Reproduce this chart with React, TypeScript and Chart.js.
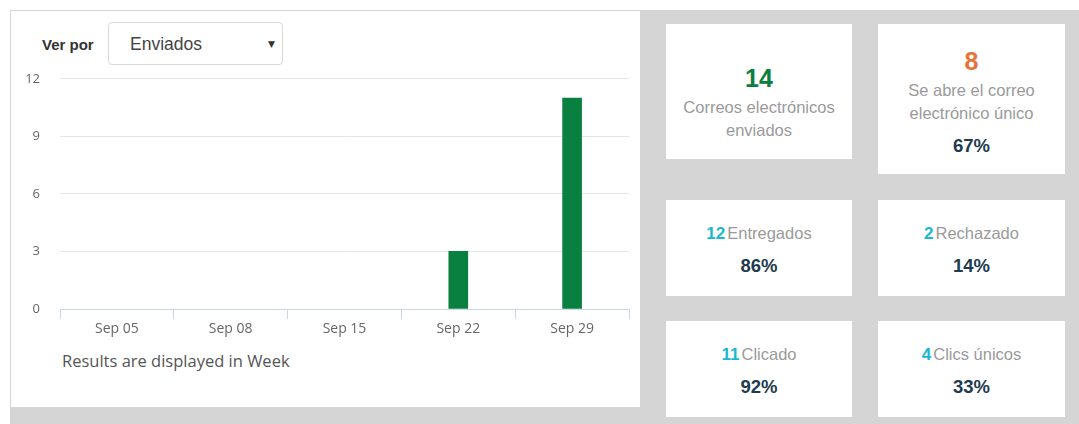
import React, { useEffect, useRef } from "react";
import { Chart, registerables } from "chart.js";

Chart.register(...registerables);

const categories = ["Sep 05", "Sep 08", "Sep 15", "Sep 22", "Sep 29"];
const sentValues = [0, 0, 0, 3, 11];
const yTicks = [0, 3, 6, 9, 12];

const GREEN = "#0a8040";
const ORANGE = "#e8733a";
const CYAN = "#1ab7d1";
const DARK = "#1e3b4f";
const LABEL = "#9a9a9a";

function BarChart() {
  const ref = useRef<HTMLCanvasElement | null>(null);
  useEffect(() => {
    if (!ref.current) return;
    const chart = new Chart(ref.current, {
      type: "bar",
      data: {
        labels: categories,
        datasets: [
          {
            label: "Enviados",
            data: sentValues,
            backgroundColor: (c: any) => (c.raw === 0 ? "rgba(0,0,0,0)" : GREEN),
            barThickness: 19,
          },
        ],
      },
      options: {
        animation: false,
        responsive: false,
        maintainAspectRatio: false,
        layout: { padding: { top: 12, right: 11, left: 0, bottom: 0 } },
        plugins: { legend: { display: false }, tooltip: { enabled: false } },
        scales: {
          x: {
            offset: true,
            grid: {
              offset: true,
              drawOnChartArea: false,
              drawTicks: true,
              tickLength: 10,
              color: (c: any) => (c.index === categories.length ? "rgba(0,0,0,0)" : "#ccd6eb"),
            },
            border: { display: true, color: "#ccd6eb" },
            ticks: {
              color: "#666",
              font: { family: "'Open Sans'", size: 14 },
              padding: 2,
              maxRotation: 0,
            },
            afterFit: (s: any) => {
              s.height = 36;
            },
          },
          y: {
            min: yTicks[0],
            max: yTicks[yTicks.length - 1],
            afterBuildTicks: (s: any) => {
              s.ticks = yTicks.map((v) => ({ value: v }));
            },
            grid: {
              drawTicks: false,
              color: (c: any) => (c.tick && c.tick.value === 0 ? "rgba(0,0,0,0)" : "#e6e6e6"),
            },
            border: { display: false },
            ticks: {
              color: "#666",
              font: { family: "'Open Sans'", size: 13 },
              padding: 20,
            },
            afterFit: (s: any) => {
              s.width = 48;
            },
          },
        },
      },
    });
    return () => chart.destroy();
  }, []);
  return (
    <canvas
      ref={ref}
      width={628}
      height={294}
      style={{ position: "absolute", left: 12, top: 51, width: 628, height: 294 }}
    />
  );
}

type Line = { top: number; content: React.ReactNode };

function Card(props: { left: number; top: number; width: number; height: number; lines: Line[] }) {
  return (
    <div
      style={{
        position: "absolute",
        left: props.left,
        top: props.top,
        width: props.width,
        height: props.height,
        background: "#fff",
      }}
    >
      {props.lines.map((l, i) => (
        <div
          key={i}
          style={{
            position: "absolute",
            left: 0,
            width: "100%",
            top: l.top,
            transform: "translateY(-50%)",
            textAlign: "center",
            whiteSpace: "nowrap",
            fontFamily: "'Liberation Sans', Arial, sans-serif",
            lineHeight: 1,
          }}
        >
          {l.content}
        </div>
      ))}
    </div>
  );
}

const big = (c: string, t: string) => (
  <span style={{ color: c, fontSize: 25, fontWeight: "bold" }}>{t}</span>
);
const lbl = (t: string) => <span style={{ color: LABEL, fontSize: 16.5 }}>{t}</span>;
const pct = (t: string) => <span style={{ color: DARK, fontSize: 18.5, fontWeight: "bold" }}>{t}</span>;
const stat = (n: string, t: string) => (
  <span>
    <span style={{ color: CYAN, fontSize: 17, fontWeight: "bold" }}>{n}</span>
    <span style={{ color: LABEL, fontSize: 16.5, marginLeft: 2 }}>{t}</span>
  </span>
);

export default function App() {
  return (
    <div
      style={{
        position: "fixed",
        left: 0,
        top: 0,
        width: 1079,
        height: 424,
        background: "#fff",
        overflow: "hidden",
      }}
    >
      <div style={{ position: "absolute", left: 10, top: 10, right: 0, bottom: 0, background: "#d5d5d5" }} />
      <div style={{ position: "absolute", left: 11, top: 11, width: 629, height: 396, background: "#fff" }} />
      <div
        style={{
          position: "absolute",
          left: 42,
          top: 44,
          transform: "translateY(-50%)",
          fontFamily: "'Liberation Sans', Arial, sans-serif",
          fontWeight: "bold",
          fontSize: 15,
          color: "#333",
        }}
      >
        Ver por
      </div>
      <div
        style={{
          position: "absolute",
          left: 108,
          top: 22,
          width: 173,
          height: 41,
          border: "1px solid #d9d9d9",
          borderRadius: 4,
          background: "#fff",
        }}
      >
        <div
          style={{
            position: "absolute",
            left: 21,
            top: 21,
            transform: "translateY(-50%)",
            fontFamily: "'Liberation Sans', Arial, sans-serif",
            fontSize: 17.5,
            color: "#444",
          }}
        >
          Enviados
        </div>
        <div
          style={{
            position: "absolute",
            left: 159,
            top: 21,
            transform: "translateY(-50%)",
            fontFamily: "'DejaVu Sans', sans-serif",
            fontSize: 9,
            color: "#333",
          }}
        >
          ▼
        </div>
      </div>
      <BarChart />
      <div
        style={{
          position: "absolute",
          left: 62,
          top: 360,
          transform: "translateY(-50%)",
          fontFamily: "'Open Sans', sans-serif",
          fontSize: 16.5,
          color: "#555",
          whiteSpace: "nowrap",
        }}
      >
        Results are displayed in Week
      </div>

      <Card
        left={666}
        top={24}
        width={186}
        height={135}
        lines={[
          { top: 54, content: big(GREEN, "14") },
          { top: 83, content: lbl("Correos electrónicos") },
          { top: 106, content: lbl("enviados") },
        ]}
      />
      <Card
        left={878}
        top={24}
        width={187}
        height={150}
        lines={[
          { top: 37, content: big(ORANGE, "8") },
          { top: 66, content: lbl("Se abre el correo") },
          { top: 89, content: lbl("electrónico único") },
          { top: 122, content: pct("67%") },
        ]}
      />
      <Card
        left={666}
        top={200}
        width={186}
        height={96}
        lines={[
          { top: 33, content: stat("12", "Entregados") },
          { top: 66, content: pct("86%") },
        ]}
      />
      <Card
        left={878}
        top={200}
        width={187}
        height={96}
        lines={[
          { top: 33, content: stat("2", "Rechazado") },
          { top: 66, content: pct("14%") },
        ]}
      />
      <Card
        left={666}
        top={321}
        width={186}
        height={96}
        lines={[
          { top: 33, content: stat("11", "Clicado") },
          { top: 66, content: pct("92%") },
        ]}
      />
      <Card
        left={878}
        top={321}
        width={187}
        height={96}
        lines={[
          { top: 33, content: stat("4", "Clics únicos") },
          { top: 66, content: pct("33%") },
        ]}
      />
    </div>
  );
}
